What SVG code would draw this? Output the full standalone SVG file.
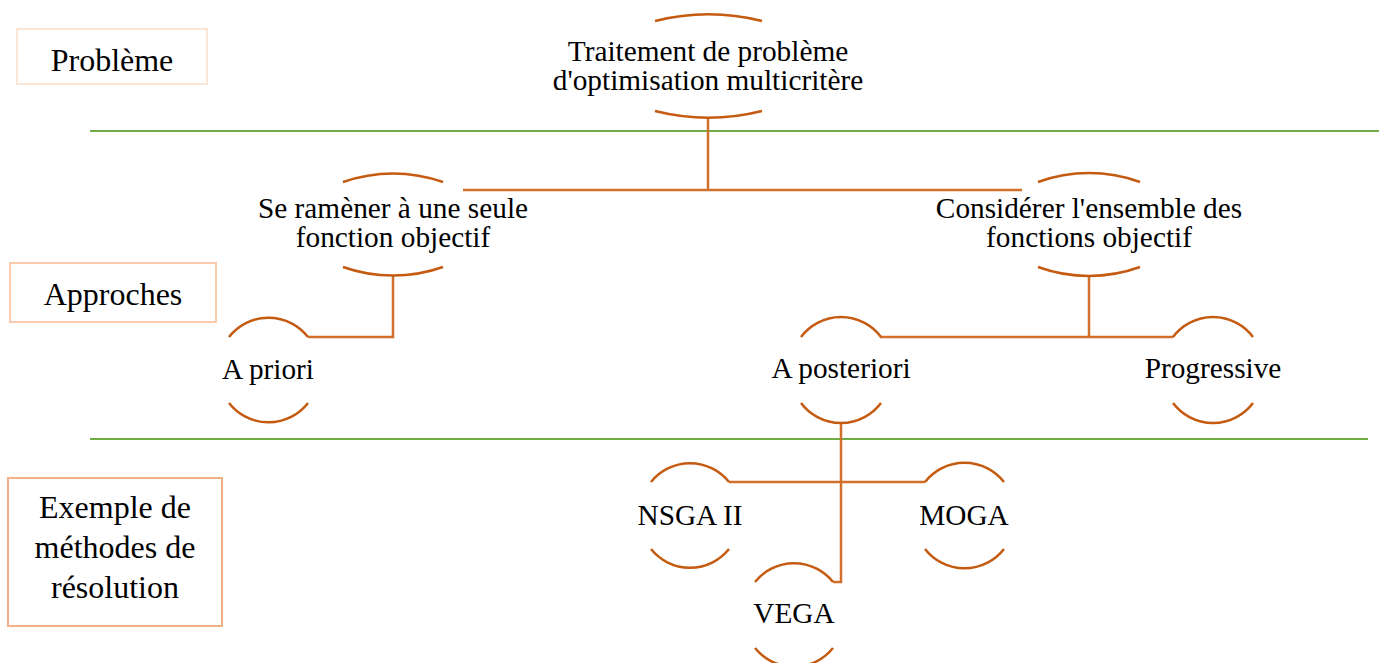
<svg xmlns="http://www.w3.org/2000/svg" width="1379" height="663" viewBox="0 0 1379 663">
<style>
.bg{fill:#ffffff}
.arc{fill:none;stroke:#C55A11;stroke-width:2.5;stroke-linecap:butt}
.con{fill:none;stroke:#D0702C;stroke-width:2.5}
.sep{stroke:#70AD47;stroke-width:2}
.t{font-family:"Liberation Serif","Times New Roman",serif;font-size:29.3px;fill:#000;text-anchor:middle}
.lt{font-family:"Liberation Serif","Times New Roman",serif;font-size:32px;fill:#000;text-anchor:middle}
.lb{fill:#ffffff;stroke-width:2}
</style>
<rect class="bg" x="0" y="0" width="1379" height="663"/>
<g id="separators">
<line class="sep" x1="90" y1="131" x2="1379" y2="131"/>
<line class="sep" x1="90" y1="439" x2="1368" y2="439"/>
</g>
<g id="label-probleme">
<rect class="lb" x="17" y="29" width="190" height="55" stroke="#FBE5D6"/>
<text class="lt" x="112" y="71">Problème</text>
</g>
<g id="label-approches">
<rect class="lb" x="10" y="263" width="206" height="59" stroke="#F8CBAD"/>
<text class="lt" x="113" y="305">Approches</text>
</g>
<g id="label-exemple">
<rect class="lb" x="8" y="478" width="214" height="148" stroke="#F4B183"/>
<text class="lt" x="115" y="518">Exemple de</text>
<text class="lt" x="115" y="558">méthodes de</text>
<text class="lt" x="115" y="598">résolution</text>
</g>
<g id="connectors">
<path class="con" d="M708 117 V190"/>
<path class="con" d="M463 190 H1022"/>
<path class="con" d="M393 275 V337 H308"/>
<path class="con" d="M1089 275 V337"/>
<path class="con" d="M880 337 H1173"/>
<path class="con" d="M841 422 V582 H833"/>
<path class="con" d="M729 482 H925"/>
</g>
<g id="node-traitement">
<path class="arc" d="M655 21 A220 220 0 0 1 762 21"/>
<path class="arc" d="M655 111 A220 220 0 0 0 762 111"/>
<text class="t" x="708" y="61">Traitement de problème</text>
<text class="t" x="708" y="90">d'optimisation multicritère</text>
</g>
<g id="node-seule">
<path class="arc" d="M343 182 A150 150 0 0 1 443 182"/>
<path class="arc" d="M343 267 A150 150 0 0 0 443 267"/>
<text class="t" x="393" y="218">Se ramèner à une seule</text>
<text class="t" x="393" y="247">fonction objectif</text>
</g>
<g id="node-ensemble">
<path class="arc" d="M1038 182 A150 150 0 0 1 1140 182"/>
<path class="arc" d="M1038 267 A150 150 0 0 0 1140 267"/>
<text class="t" x="1089" y="218">Considérer l'ensemble des</text>
<text class="t" x="1089" y="247">fonctions objectif</text>
</g>
<g id="node-apriori">
<path class="arc" d="M229 337 A50 50 0 0 1 308 337"/>
<path class="arc" d="M229 403 A50 50 0 0 0 308 403"/>
<text class="t" x="268" y="379">A priori</text>
</g>
<g id="node-aposteriori">
<path class="arc" d="M801 337 A50 50 0 0 1 881 337"/>
<path class="arc" d="M801 403 A50 50 0 0 0 881 403"/>
<text class="t" x="841" y="378">A posteriori</text>
</g>
<g id="node-progressive">
<path class="arc" d="M1173 337 A50 50 0 0 1 1253 337"/>
<path class="arc" d="M1173 403 A50 50 0 0 0 1253 403"/>
<text class="t" x="1213" y="378">Progressive</text>
</g>
<g id="node-nsga">
<path class="arc" d="M651 482 A50 50 0 0 1 729 482"/>
<path class="arc" d="M651 549 A50 50 0 0 0 729 549"/>
<text class="t" x="690" y="525">NSGA II</text>
</g>
<g id="node-moga">
<path class="arc" d="M925 482 A50 50 0 0 1 1004 482"/>
<path class="arc" d="M925 549 A50 50 0 0 0 1004 549"/>
<text class="t" x="964" y="525">MOGA</text>
</g>
<g id="node-vega">
<path class="arc" d="M755 582 A50 50 0 0 1 833 582"/>
<path class="arc" d="M755 648 A50 50 0 0 0 833 648"/>
<text class="t" x="794" y="623">VEGA</text>
</g>
</svg>
